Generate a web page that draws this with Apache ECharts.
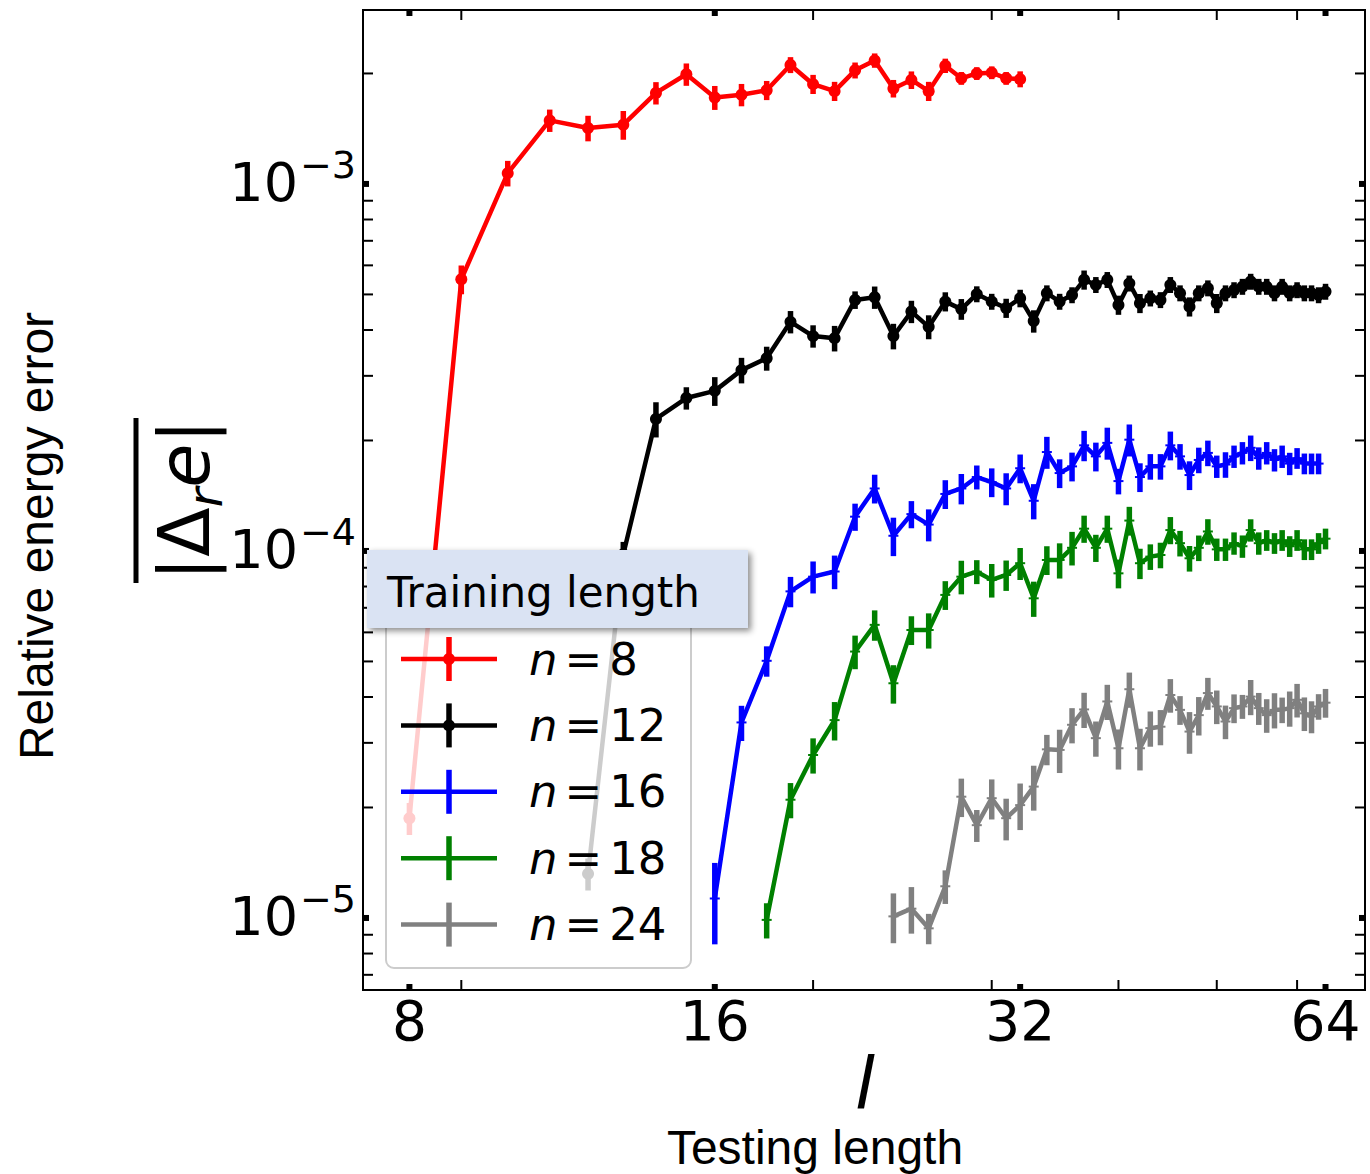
<!DOCTYPE html>
<html><head><meta charset="utf-8">
<script src="https://cdn.jsdelivr.net/npm/echarts@6/dist/echarts.min.js"></script>
<style>html,body{margin:0;padding:0;background:#fff}#chart{width:1370px;height:1174px}</style>
</head><body><div id="chart"></div>
<script>
// ---------------- data ----------------
const testingLengths = [8,9,10,11,12,13,14,15,16,17,18,19,20,21,22,23,24,25,26,27,28,29,30,31,32,33,34,35,36,37,38,39,40,41,42,43,44,45,46,47,48,49,50,51,52,53,54,55,56,57,58,59,60,61,62,63,64];
const trainingLengths = [8, 12, 16, 18, 24];
const seriesNames = ['n = 8', 'n = 12', 'n = 16', 'n = 18', 'n = 24'];

// mean relative energy error, starting at testing length l = n
const errorN8 = [1.87e-5,5.50e-4,1.07e-3,1.49e-3,1.42e-3,1.45e-3,1.77e-3,1.99e-3,1.72e-3,1.75e-3,1.80e-3,2.11e-3,1.87e-3,1.79e-3,2.04e-3,2.17e-3,1.82e-3,1.92e-3,1.79e-3,2.10e-3,1.94e-3,2.00e-3,2.01e-3,1.94e-3,1.93e-3];
const errorN12 = [1.32e-5,9.8e-5,2.29e-4,2.61e-4,2.73e-4,3.11e-4,3.35e-4,4.21e-4,3.85e-4,3.80e-4,4.83e-4,4.91e-4,3.85e-4,4.49e-4,4.08e-4,4.78e-4,4.56e-4,5.01e-4,4.78e-4,4.59e-4,4.88e-4,4.23e-4,5.04e-4,4.78e-4,4.98e-4,5.48e-4,5.31e-4,5.48e-4,4.68e-4,5.36e-4,4.73e-4,4.88e-4,4.83e-4,5.31e-4,5.04e-4,4.63e-4,5.04e-4,5.20e-4,4.73e-4,5.04e-4,5.14e-4,5.25e-4,5.42e-4,5.25e-4,5.25e-4,5.04e-4,5.25e-4,5.04e-4,5.14e-4,5.04e-4,5.04e-4,4.98e-4,5.09e-4];
const errorN16 = [1.13e-5,3.41e-5,5.02e-5,7.76e-5,8.51e-5,8.79e-5,1.24e-4,1.48e-4,1.10e-4,1.26e-4,1.18e-4,1.43e-4,1.48e-4,1.59e-4,1.54e-4,1.48e-4,1.68e-4,1.37e-4,1.86e-4,1.63e-4,1.70e-4,1.94e-4,1.81e-4,1.97e-4,1.55e-4,2.01e-4,1.59e-4,1.70e-4,1.70e-4,1.94e-4,1.81e-4,1.61e-4,1.77e-4,1.85e-4,1.70e-4,1.72e-4,1.81e-4,1.85e-4,1.91e-4,1.79e-4,1.85e-4,1.77e-4,1.81e-4,1.73e-4,1.79e-4,1.73e-4,1.73e-4,1.73e-4];
const errorN18 = [9.88e-6,2.10e-5,2.78e-5,3.46e-5,5.32e-5,6.29e-5,4.36e-5,6.09e-5,6.09e-5,7.59e-5,8.51e-5,8.78e-5,8.34e-5,8.60e-5,9.26e-5,7.43e-5,9.45e-5,9.45e-5,1.02e-4,1.15e-4,1.02e-4,1.15e-4,8.69e-5,1.21e-4,9.26e-5,9.65e-5,9.75e-5,1.14e-4,1.05e-4,9.55e-5,1.02e-4,1.13e-4,1.01e-4,1.01e-4,1.05e-4,1.03e-4,1.14e-4,1.05e-4,1.07e-4,1.05e-4,1.07e-4,1.03e-4,1.07e-4,1.01e-4,1.01e-4,1.05e-4,1.08e-4];
const errorN24 = [1.01e-5,1.06e-5,9.37e-6,1.22e-5,2.14e-5,1.79e-5,2.12e-5,1.87e-5,2.03e-5,2.28e-5,2.88e-5,2.87e-5,3.36e-5,3.70e-5,3.09e-5,3.89e-5,2.90e-5,4.20e-5,2.90e-5,3.29e-5,3.32e-5,4.05e-5,3.69e-5,3.22e-5,3.57e-5,4.10e-5,3.77e-5,3.43e-5,3.73e-5,3.77e-5,4.01e-5,3.73e-5,3.57e-5,3.69e-5,3.69e-5,3.73e-5,3.93e-5,3.61e-5,3.54e-5,3.77e-5,3.86e-5];

// relative size of the error bars (half-length / value)
const relErrN8 = [0.10,0.09,0.08,0.07,0.08,0.09,0.07,0.07,0.075,0.07,0.06,0.05,0.06,0.06,0.05,0.045,0.055,0.055,0.06,0.045,0.04,0.04,0.04,0.04,0.05];
const relErrN12 = [0.10,0.08,0.11,0.07,0.09,0.08,0.075,0.07,0.07,0.08,0.055,0.07,0.08,0.07,0.075,0.06,0.065,0.05,0.05,0.06,0.055,0.07,0.05,0.05,0.05,0.06,0.05,0.05,0.06,0.05,0.06,0.05,0.05,0.05,0.05,0.06,0.05,0.05,0.06,0.05,0.05,0.05,0.05,0.05,0.05,0.05,0.05,0.05,0.05,0.05,0.05,0.05,0.05];
const relErrN16 = [0.25,0.11,0.095,0.095,0.10,0.105,0.085,0.09,0.12,0.085,0.10,0.09,0.095,0.075,0.09,0.10,0.09,0.11,0.10,0.09,0.09,0.095,0.09,0.10,0.08,0.10,0.09,0.08,0.08,0.09,0.08,0.09,0.08,0.08,0.07,0.08,0.07,0.07,0.08,0.07,0.07,0.07,0.07,0.07,0.065,0.065,0.065,0.065];
const relErrN18 = [0.11,0.11,0.11,0.12,0.105,0.095,0.12,0.09,0.11,0.09,0.105,0.075,0.105,0.095,0.10,0.11,0.09,0.11,0.105,0.085,0.085,0.085,0.09,0.09,0.095,0.08,0.08,0.085,0.08,0.08,0.08,0.08,0.07,0.07,0.07,0.07,0.07,0.07,0.065,0.065,0.065,0.065,0.065,0.065,0.065,0.065,0.065];
const relErrN24 = [0.155,0.145,0.095,0.105,0.12,0.10,0.125,0.13,0.145,0.14,0.095,0.135,0.11,0.11,0.11,0.11,0.125,0.11,0.13,0.11,0.11,0.105,0.09,0.13,0.12,0.10,0.105,0.105,0.09,0.075,0.11,0.10,0.105,0.11,0.08,0.11,0.105,0.105,0.10,0.08,0.09];

const seriesValues = [errorN8, errorN12, errorN16, errorN18, errorN24];
const seriesRelErr = [relErrN8, relErrN12, relErrN16, relErrN18, relErrN24];

// axis ticks
const xMajorTicks = [8, 16, 32, 64];
const xMajorLabels = ['8', '16', '32', '64'];
const xMinorTicks = [9, 20, 30, 40, 50, 60, 70];
const yMajorTicks = [1e-5, 1e-4, 1e-3];
const yMajorExponents = ['\u22125', '\u22124', '\u22123'];
const yMinorTicks = [7e-6,8e-6,9e-6,2e-5,3e-5,4e-5,5e-5,6e-5,7e-5,8e-5,9e-5,2e-4,3e-4,4e-4,5e-4,6e-4,7e-4,8e-4,9e-4,2e-3];

// axis limits
const X_MIN = 7.2, X_MAX = 70;
const Y_MIN = 6.364e-6, Y_MAX = 2.978e-3;

// ---------------- styles ----------------
const colors = ['#ff0000', '#000000', '#0000ff', '#008000', '#808080'];
const hasDot = [true, true, false, false, false];
const MATH = '"DejaVu Sans"';

const chart = echarts.init(document.getElementById('chart'), null, {renderer: 'svg'});

const series = [];
trainingLengths.forEach((n, k) => {
  const start = testingLengths.indexOf(n);
  const vals = seriesValues[k];
  const rel = seriesRelErr[k];
  const lineData = vals.map((v, i) => [testingLengths[start + i], v]);
  const barData = vals.map((v, i) => [testingLengths[start + i], v * (1 - rel[i]), v * (1 + rel[i]), v]);
  const c = colors[k];
  series.push({
    type: 'line', name: seriesNames[k], data: lineData, z: 2,
    symbol: hasDot[k] ? 'circle' : 'none', symbolSize: 12, showSymbol: hasDot[k],
    itemStyle: {color: c}, lineStyle: {color: c, width: 4.5, join: 'round', cap: 'round'},
    emphasis: {disabled: true}, silent: true
  });
  series.push({
    type: 'custom', data: barData, z: 2, silent: true,
    encode: {x: 0, y: 3},
    renderItem: (params, api) => {
      const l = api.value(0);
      const p0 = api.coord([l, api.value(1)]);
      const p1 = api.coord([l, api.value(2)]);
      const children = [{type: 'line', shape: {x1: p0[0], y1: p0[1], x2: p1[0], y2: p1[1]}, style: {stroke: c, lineWidth: 5.5}}];
      if (!hasDot[k]) {
        const pc = api.coord([l, api.value(3)]);
        children.push({type: 'line', shape: {x1: pc[0] - 5, y1: pc[1], x2: pc[0] + 5, y2: pc[1]}, style: {stroke: c, lineWidth: 2}});
      }
      return {type: 'group', children};
    }
  });
});

// x ticks & labels
const xTickData = xMajorTicks.map((v, i) => [v, Y_MIN, 1, i]).concat(xMinorTicks.map(v => [v, Y_MIN, 0, -1]));
series.push({
  type: 'custom', data: xTickData, z: 5, silent: true, clip: false,
  renderItem: (params, api) => {
    const v = api.value(0);
    const pb = api.coord([v, Y_MIN]);
    const pt = api.coord([v, Y_MAX]);
    const ch = [];
    if (api.value(2) === 1) {
      ch.push({type: 'rect', shape: {x: pb[0] - 3, y: pb[1] - 6, width: 6, height: 6}, style: {fill: '#000'}});
      ch.push({type: 'rect', shape: {x: pt[0] - 3, y: pt[1], width: 6, height: 6}, style: {fill: '#000'}});
      ch.push({type: 'text', x: pb[0], y: pb[1] + 31, style: {text: xMajorLabels[api.value(3)], font: '55px ' + MATH, fill: '#000', align: 'center', verticalAlign: 'middle'}});
    } else {
      ch.push({type: 'line', shape: {x1: pb[0], y1: pb[1], x2: pb[0], y2: pb[1] - 10}, style: {stroke: '#000', lineWidth: 2}});
      ch.push({type: 'line', shape: {x1: pt[0], y1: pt[1], x2: pt[0], y2: pt[1] + 10}, style: {stroke: '#000', lineWidth: 2}});
    }
    return {type: 'group', children: ch};
  }
});

// y ticks & labels
const yTickData = yMajorTicks.map((v, i) => [X_MIN, v, 1, i]).concat(yMinorTicks.map(v => [X_MIN, v, 0, -1]));
series.push({
  type: 'custom', data: yTickData, z: 5, silent: true, clip: false,
  renderItem: (params, api) => {
    const v = api.value(1);
    const pl = api.coord([X_MIN, v]);
    const pr = api.coord([X_MAX, v]);
    const ch = [];
    if (api.value(2) === 1) {
      ch.push({type: 'rect', shape: {x: pl[0], y: pl[1] - 3, width: 6, height: 6}, style: {fill: '#000'}});
      ch.push({type: 'rect', shape: {x: pr[0] - 6, y: pr[1] - 3, width: 6, height: 6}, style: {fill: '#000'}});
      ch.push({type: 'text', x: pl[0] - 65, y: pl[1] - 1, style: {text: '10', font: '54px ' + MATH, fill: '#000', align: 'right', verticalAlign: 'middle'}});
      ch.push({type: 'text', x: pl[0] - 63, y: pl[1] - 19, style: {text: yMajorExponents[api.value(3)], font: '38px ' + MATH, fill: '#000', align: 'left', verticalAlign: 'middle'}});
    } else {
      ch.push({type: 'line', shape: {x1: pl[0], y1: pl[1], x2: pl[0] + 10, y2: pl[1]}, style: {stroke: '#000', lineWidth: 2}});
      ch.push({type: 'line', shape: {x1: pr[0], y1: pr[1], x2: pr[0] - 10, y2: pr[1]}, style: {stroke: '#000', lineWidth: 2}});
    }
    return {type: 'group', children: ch};
  }
});

// legend (drawn as graphic so it can show error-bar samples)
const legendGraphics = [
  {type: 'rect', z: 100, shape: {x: 386, y: 600, width: 305, height: 368, r: 8}, style: {fill: 'rgba(255,255,255,0.8)', stroke: '#cccccc', lineWidth: 2}},
  {type: 'rect', z: 101, shape: {x: 367, y: 550, width: 381, height: 78}, style: {fill: '#dae3f3', shadowBlur: 6, shadowOffsetX: 3, shadowOffsetY: 3, shadowColor: 'rgba(0,0,0,0.45)'}},
  {type: 'text', z: 102, x: 387, y: 592, style: {text: 'Training length', font: '42px ' + MATH, fill: '#000', verticalAlign: 'middle'}}
];
trainingLengths.forEach((n, k) => {
  const y = 659 + k * 66.4;
  const c = colors[k];
  legendGraphics.push({type: 'line', z: 102, shape: {x1: 401, y1: y, x2: 497, y2: y}, style: {stroke: c, lineWidth: 4.5}});
  legendGraphics.push({type: 'line', z: 102, shape: {x1: 449, y1: y - 22, x2: 449, y2: y + 22}, style: {stroke: c, lineWidth: 5.5}});
  if (hasDot[k]) legendGraphics.push({type: 'circle', z: 103, shape: {cx: 449, cy: y, r: 6}, style: {fill: c}});
  legendGraphics.push({type: 'text', z: 102, x: 529, y: y, style: {
    text: '{i|n}{e|=}{d|' + n + '}', fill: '#000', verticalAlign: 'middle',
    rich: {
      i: {font: 'italic 45px ' + MATH, fill: '#000'},
      e: {font: '45px ' + MATH, fill: '#000', padding: [0, 7, 0, 7]},
      d: {font: '45px ' + MATH, fill: '#000'}
    }
  }});
});

// axis titles
const titleGraphics = [
  {type: 'text', z: 50, x: 36, y: 536, rotation: Math.PI / 2, style: {text: 'Relative energy error', font: '48px "Liberation Sans"', fill: '#000', align: 'center', verticalAlign: 'middle'}},
  {type: 'text', z: 50, x: 184, y: 500, rotation: Math.PI / 2, style: {
    text: '{u||\u0394}{s|r}{i|e}{u||}', fill: '#000', align: 'center', verticalAlign: 'middle',
    rich: {
      u: {font: '72px ' + MATH, fill: '#000', lineHeight: 90},
      i: {font: 'italic 72px ' + MATH, fill: '#000', lineHeight: 90},
      s: {font: 'italic 48px ' + MATH, fill: '#000', lineHeight: 56, verticalAlign: 'bottom'}
    }
  }},
  {type: 'line', z: 50, shape: {x1: 136, y1: 418, x2: 136, y2: 583}, style: {stroke: '#000', lineWidth: 5}},
  {type: 'text', z: 50, x: 865, y: 1083, style: {text: 'l', font: 'italic 72px ' + MATH, fill: '#000', align: 'center', verticalAlign: 'middle'}},
  {type: 'text', z: 50, x: 815, y: 1147, style: {text: 'Testing length', font: '48px "Liberation Sans"', fill: '#000', align: 'center', verticalAlign: 'middle'}}
];

const option = {
  animation: false,
  backgroundColor: '#ffffff',
  grid: {left: 363, top: 10, width: 1002, height: 980, show: true, borderColor: '#000', borderWidth: 2, backgroundColor: 'transparent'},
  xAxis: {type: 'log', logBase: 2, min: X_MIN, max: X_MAX, axisLine: {show: false}, axisTick: {show: false}, axisLabel: {show: false}, splitLine: {show: false}, minorTick: {show: false}},
  yAxis: {type: 'log', logBase: 10, min: Y_MIN, max: Y_MAX, axisLine: {show: false}, axisTick: {show: false}, axisLabel: {show: false}, splitLine: {show: false}, minorTick: {show: false}},
  series: series,
  graphic: legendGraphics.concat(titleGraphics)
};
chart.setOption(option);
</script>
</body></html>
